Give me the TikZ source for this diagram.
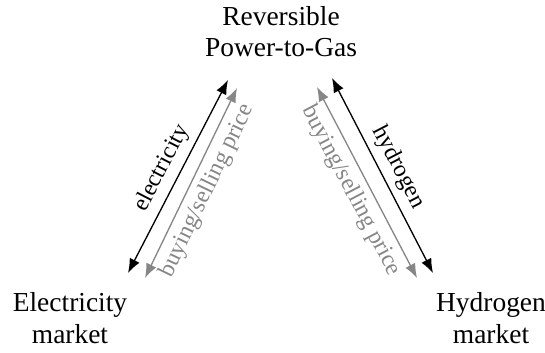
\documentclass[tikz,border=0pt]{standalone}
\usepackage{fontspec}
\setmainfont{Liberation Serif}
\usetikzlibrary{arrows.meta}

\begin{document}
\begin{tikzpicture}[x=0.016cm, y=-0.016cm,
    font=\fontsize{12.5}{14.3}\selectfont,
    market/.style={align=center, inner sep=0pt},
    flow/.style={{Latex[length=6.5pt,width=5pt]}-{Latex[length=6.5pt,width=5pt]}, line width=0.6pt},
    price/.style={flow, gray!95},
    lbl/.style={midway, sloped, inner sep=3pt, font=\fontsize{10.8}{12}\selectfont}]
  \useasboundingbox (0,0) rectangle (545,352);

  \node[market] (p2g) at (281,31.5) {Reversible\\Power-to-Gas};
  \node[market] (elmarket) at (70,318) {Electricity\\market};
  \node[market] (hmarket) at (491,318) {Hydrogen\\market};

  % arrow ends
  \coordinate (el-top) at (228,80);
  \coordinate (el-bot) at (128,273);
  \coordinate (elp-top) at (237,88);
  \coordinate (elp-bot) at (145,278);
  \coordinate (h-top) at (332,78);
  \coordinate (h-bot) at (433,273);
  \coordinate (hp-top) at (317,87);
  \coordinate (hp-bot) at (417,278);

  \draw[flow] (el-bot) -- node[lbl, above] {electricity} (el-top);
  \draw[price] (elp-bot) -- node[lbl, below, text=gray!95] {buying/selling price} (elp-top);
  \draw[flow] (h-top) -- node[lbl, above] {hydrogen} (h-bot);
  \draw[price] (hp-top) -- node[lbl, below, text=gray!95] {buying/selling price} (hp-bot);
\end{tikzpicture}
\end{document}
